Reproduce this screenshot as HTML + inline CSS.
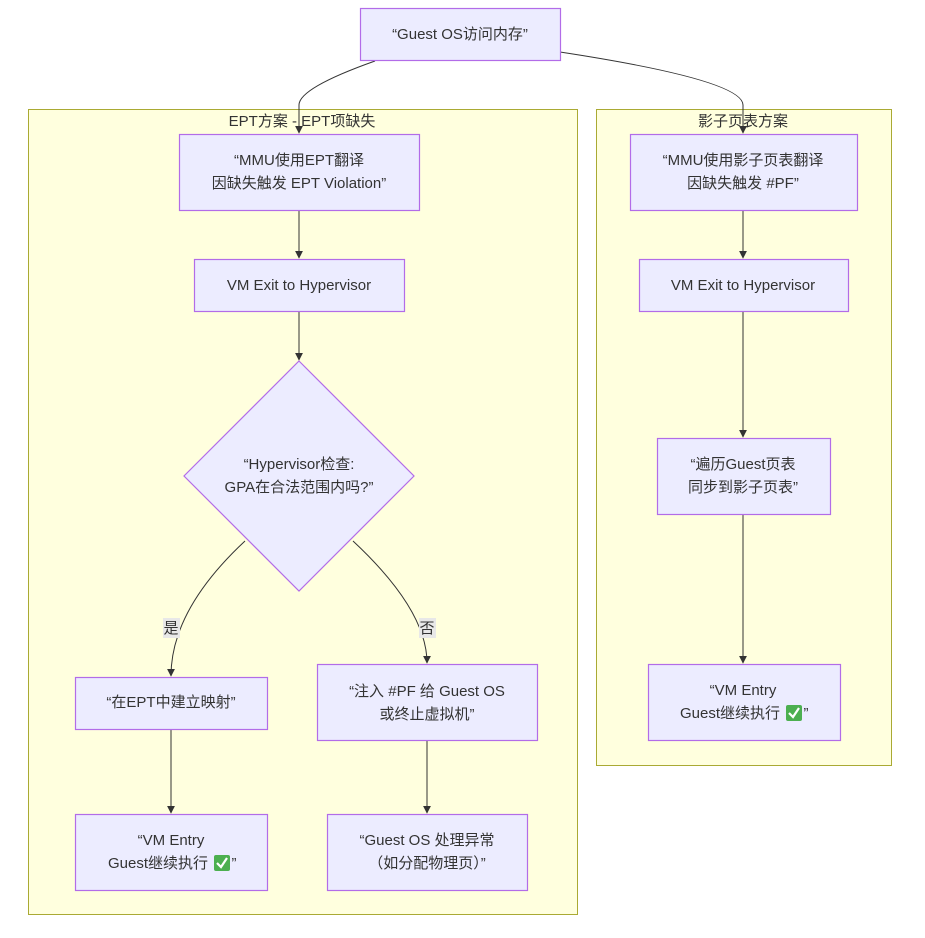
<!DOCTYPE html>
<html><head><meta charset="utf-8"><style>
html,body{margin:0;padding:0;background:#fff;width:925px;height:938px;overflow:hidden}
text{font-family:"Liberation Sans","Noto Sans CJK SC",sans-serif;font-size:15px;fill:#333;text-anchor:middle}
.n{fill:#ECECFF;stroke:#B26CE8;stroke-width:1.2}
.c{fill:#FFFFDE;stroke:#AAAA33;stroke-width:1}
.e{fill:none;stroke:#333;stroke-width:1}
.ok{fill:#4caf50}
</style></head><body>
<svg width="925" height="938" viewBox="0 0 925 938" xmlns="http://www.w3.org/2000/svg">
<defs><marker id="a" viewBox="0 0 10 10" refX="9" refY="5" markerWidth="8" markerHeight="8" orient="auto"><path d="M0,0L10,5L0,10z" fill="#333"/></marker></defs>
<rect class="c" x="28.5" y="109.5" width="549" height="805"/>
<rect class="c" x="596.5" y="109.5" width="295" height="656"/>
<text x="302" y="126">EPT方案 - EPT项缺失</text>
<text x="743" y="126">影子页表方案</text>

<path class="e" d="M375,61 Q299,88 299,105 L299,133" marker-end="url(#a)"/>
<path class="e" d="M560,52 Q743,80 743,105 L743,133" marker-end="url(#a)"/>
<path class="e" d="M299,210 L299,258" marker-end="url(#a)"/>
<path class="e" d="M299,311 L299,360" marker-end="url(#a)"/>
<path class="e" d="M245,541 Q171,610 171,676" marker-end="url(#a)"/>
<path class="e" d="M353,541 Q427,610 427,663" marker-end="url(#a)"/>
<path class="e" d="M171,729 L171,813" marker-end="url(#a)"/>
<path class="e" d="M427,740 L427,813" marker-end="url(#a)"/>
<path class="e" d="M743,210 L743,258" marker-end="url(#a)"/>
<path class="e" d="M743,311 L743,437" marker-end="url(#a)"/>
<path class="e" d="M743,514 L743,663" marker-end="url(#a)"/>

<rect x="163" y="618" width="17" height="20" fill="#e8e8e8"/>
<text x="171" y="633">是</text>
<rect x="419" y="618" width="17" height="20" fill="#e8e8e8"/>
<text x="427" y="633">否</text>

<rect class="n" x="360.5" y="8.5" width="200" height="52"/>
<text x="460" y="39">“Guest OS访问内存”</text>

<rect class="n" x="179.5" y="134.5" width="240" height="76"/>
<text x="299" y="165">“MMU使用EPT翻译</text>
<text x="299" y="188">因缺失触发 EPT Violation”</text>

<rect class="n" x="194.5" y="259.5" width="210" height="52"/>
<text x="299" y="290">VM Exit to Hypervisor</text>

<polygon class="n" points="299,361 414,476 299,591 184,476"/>
<text x="299" y="469">“Hypervisor检查:</text>
<text x="299" y="492">GPA在合法范围内吗?”</text>

<rect class="n" x="75.5" y="677.5" width="192" height="52"/>
<text x="171" y="707">“在EPT中建立映射”</text>

<rect class="n" x="317.5" y="664.5" width="220" height="76"/>
<text x="427" y="696">“注入 #PF 给 Guest OS</text>
<text x="427" y="719">或终止虚拟机”</text>

<rect class="n" x="75.5" y="814.5" width="192" height="76"/>
<text x="171" y="845">“VM Entry</text>
<text x="158" y="868">Guest继续执行</text>
<rect class="ok" x="214" y="855" width="16" height="16" rx="2"/>
<path d="M217,863 L221,867 L227,858" stroke="#fff" stroke-width="2.2" fill="none"/>
<text x="234" y="868">”</text>

<rect class="n" x="327.5" y="814.5" width="200" height="76"/>
<text x="427" y="845">“Guest OS 处理异常</text>
<text x="427" y="868">（如分配物理页）”</text>

<rect class="n" x="630.5" y="134.5" width="227" height="76"/>
<text x="743" y="165">“MMU使用影子页表翻译</text>
<text x="743" y="188">因缺失触发 #PF”</text>

<rect class="n" x="639.5" y="259.5" width="209" height="52"/>
<text x="743" y="290">VM Exit to Hypervisor</text>

<rect class="n" x="657.5" y="438.5" width="173" height="76"/>
<text x="743" y="469">“遍历Guest页表</text>
<text x="743" y="492">同步到影子页表”</text>

<rect class="n" x="648.5" y="664.5" width="192" height="76"/>
<text x="743" y="695">“VM Entry</text>
<text x="730" y="718">Guest继续执行</text>
<rect class="ok" x="786" y="705" width="16" height="16" rx="2"/>
<path d="M789,713 L793,717 L799,708" stroke="#fff" stroke-width="2.2" fill="none"/>
<text x="806" y="718">”</text>
</svg>
</body></html>
